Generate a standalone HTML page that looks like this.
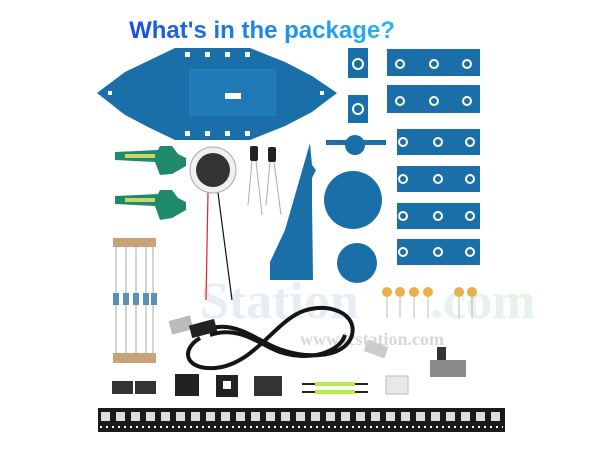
<!DOCTYPE html>
<html><head><style>
body{margin:0;width:600px;height:450px;background:#fff;overflow:hidden;font-family:"Liberation Sans",sans-serif}
</style></head><body>
<svg width="600" height="450" xmlns="http://www.w3.org/2000/svg">
<defs>
<linearGradient id="t" x1="0" x2="1"><stop offset="0" stop-color="#1a4fe0"/><stop offset="0.5" stop-color="#1e88e5"/><stop offset="1" stop-color="#29b6f6"/></linearGradient>
</defs>
<text x="262" y="38" text-anchor="middle" font-size="24" font-weight="bold" fill="url(#t)" font-family="Liberation Sans,sans-serif">What's in the package?</text>
<!-- watermark -->
<text x="200" y="318" font-size="52" font-weight="bold" fill="#e6eef4" font-family="Liberation Serif,serif">Station</text>
<text x="430" y="318" font-size="52" font-weight="bold" fill="#e6f3e8" font-family="Liberation Serif,serif">.com</text>
<text x="300" y="345" font-size="18" font-weight="bold" fill="#d8d8d8" font-family="Liberation Serif,serif">www.icstation.com</text>
<!-- boat pcb -->
<polygon points="97,93 125,72 150,60 175,48 250,48 285,62 312,76 337,93 312,112 285,126 250,140 175,140 150,128 125,115" fill="#1a6fa8"/>
<rect x="190" y="70" width="85" height="45" fill="#1f79b5" stroke="#2a88c4"/>
<rect x="225" y="93" width="16" height="6" fill="#fff"/>
<g fill="#fff"><rect x="185" y="52" width="5" height="5"/><rect x="205" y="52" width="5" height="5"/><rect x="225" y="52" width="5" height="5"/><rect x="245" y="52" width="5" height="5"/><rect x="185" y="131" width="5" height="5"/><rect x="205" y="131" width="5" height="5"/><rect x="225" y="131" width="5" height="5"/><rect x="245" y="131" width="5" height="5"/><rect x="108" y="91" width="4" height="4"/><rect x="320" y="91" width="4" height="4"/></g>
<!-- small pieces -->
<rect x="348" y="48" width="20" height="30" fill="#1a6fa8"/><circle cx="358" cy="64" r="5" fill="none" stroke="#fff" stroke-width="2"/>
<rect x="348" y="95" width="20" height="28" fill="#1a6fa8"/><circle cx="358" cy="109" r="5" fill="none" stroke="#fff" stroke-width="2"/>
<!-- strips -->
<g fill="#1a6fa8">
<rect x="387" y="49" width="93" height="27"/><rect x="387" y="85" width="93" height="28"/>
<rect x="397" y="129" width="83" height="26"/><rect x="397" y="166" width="83" height="26"/><rect x="397" y="203" width="83" height="26"/><rect x="397" y="239" width="83" height="26"/>
</g>
<g fill="none" stroke="#fff" stroke-width="2">
<circle cx="400" cy="64" r="4"/><circle cx="434" cy="64" r="4"/><circle cx="467" cy="64" r="4"/>
<circle cx="400" cy="101" r="4"/><circle cx="434" cy="101" r="4"/><circle cx="467" cy="101" r="4"/>
<circle cx="403" cy="142" r="4"/><circle cx="438" cy="142" r="4"/><circle cx="470" cy="142" r="4"/>
<circle cx="403" cy="179" r="4"/><circle cx="438" cy="179" r="4"/><circle cx="470" cy="179" r="4"/>
<circle cx="403" cy="216" r="4"/><circle cx="438" cy="216" r="4"/><circle cx="470" cy="216" r="4"/>
<circle cx="403" cy="252" r="4"/><circle cx="438" cy="252" r="4"/><circle cx="470" cy="252" r="4"/>
</g>
<!-- green pieces -->
<g fill="#1f8a6a"><polygon points="115,152 158,150 160,146 172,146 178,154 186,158 186,166 172,174 160,175 155,162 115,160"/>
<polygon points="115,196 158,194 160,190 172,190 178,198 186,202 186,210 172,218 160,220 155,206 115,204"/></g>
<rect x="125" y="154" width="30" height="4" fill="#c9d46a"/><rect x="125" y="198" width="30" height="4" fill="#c9d46a"/>
<!-- speaker -->
<circle cx="213" cy="170" r="23" fill="#f0f0f0" stroke="#aaa"/><circle cx="213" cy="170" r="17" fill="#333"/>
<path d="M208,193 L206,300" stroke="#d22" stroke-width="1.2" fill="none"/><path d="M218,193 L232,300" stroke="#111" stroke-width="1.2" fill="none"/>
<!-- caps -->
<rect x="250" y="146" width="8" height="15" rx="2" fill="#222"/><rect x="268" y="147" width="8" height="15" rx="2" fill="#222"/>
<path d="M252,161 L248,205 M256,161 L262,215 M270,162 L266,205 M274,162 L281,215" stroke="#aaa" fill="none"/>
<!-- triangle -->
<polygon points="310,143 312,165 316,170 312,178 312,200 313,280 270,280 270,262 285,230" fill="#1a6fa8"/>
<!-- circles -->
<rect x="326" y="140" width="60" height="5" fill="#1a6fa8"/><circle cx="355" cy="145" r="10" fill="#1a6fa8"/>
<circle cx="353" cy="200" r="29" fill="#1a6fa8"/><circle cx="357" cy="263" r="20" fill="#1a6fa8"/>
<!-- resistors -->
<rect x="113" y="238" width="43" height="9" fill="#c9a27a"/><rect x="113" y="353" width="43" height="10" fill="#c9a27a"/>
<g stroke="#aaa"><line x1="116" y1="247" x2="116" y2="353"/><line x1="126" y1="247" x2="126" y2="353"/><line x1="136" y1="247" x2="136" y2="353"/><line x1="146" y1="247" x2="146" y2="353"/><line x1="153" y1="247" x2="153" y2="353"/></g>
<g fill="#5b8fb5"><rect x="113" y="293" width="6" height="12"/><rect x="123" y="293" width="6" height="12"/><rect x="133" y="293" width="6" height="12"/><rect x="143" y="293" width="6" height="12"/><rect x="151" y="293" width="6" height="12"/></g>
<!-- capacitors yellow -->
<g stroke="#bbb"><line x1="387" y1="297" x2="387" y2="318"/><line x1="400" y1="297" x2="400" y2="318"/><line x1="414" y1="297" x2="414" y2="318"/><line x1="428" y1="297" x2="428" y2="318"/><line x1="459" y1="297" x2="459" y2="318"/><line x1="472" y1="297" x2="472" y2="318"/></g>
<g fill="#e8b04a"><circle cx="387" cy="292" r="5"/><circle cx="400" cy="292" r="5"/><circle cx="414" cy="292" r="5"/><circle cx="428" cy="292" r="5"/><circle cx="459" cy="292" r="5"/><circle cx="472" cy="292" r="5"/></g>
<!-- cable -->
<g fill="none" stroke="#151515" stroke-width="4">
<path d="M205,330 C230,320 250,335 270,345 C300,360 345,360 352,335 C358,310 320,300 295,315 C270,330 250,365 215,368 C185,370 180,350 200,338"/>
<path d="M210,335 C240,325 260,345 280,352 C310,362 340,352 345,335"/>
</g>
<rect x="170" y="318" width="22" height="14" fill="#bbb" transform="rotate(-15 181 325)"/><rect x="190" y="322" width="26" height="13" fill="#222" transform="rotate(-15 203 328)"/>
<!-- usb-c, switch -->
<rect x="365" y="343" width="22" height="12" fill="#ccc" transform="rotate(20 376 349)"/>
<rect x="437" y="347" width="9" height="14" fill="#333"/><rect x="430" y="360" width="36" height="17" fill="#8a8a8a"/>
<!-- ICs -->
<rect x="112" y="381" width="21" height="13" fill="#333"/><rect x="135" y="381" width="21" height="13" fill="#333"/>
<rect x="175" y="374" width="24" height="22" fill="#222"/><rect x="216" y="375" width="22" height="22" fill="#222"/><rect x="223" y="381" width="8" height="8" fill="#fff"/>
<rect x="254" y="376" width="28" height="20" fill="#333"/>
<line x1="302" y1="384" x2="368" y2="384" stroke="#222" stroke-width="2"/><line x1="302" y1="392" x2="368" y2="392" stroke="#222" stroke-width="2"/>
<rect x="315" y="382" width="40" height="4" fill="#b6ec4a"/><rect x="315" y="390" width="40" height="4" fill="#b6ec4a"/>
<rect x="386" y="376" width="22" height="18" fill="#e8e8e8" stroke="#bbb"/>
<!-- LED strip -->
<rect x="98" y="408" width="407" height="24" fill="#1a1a1a"/>
<g fill="#ddd">
<rect x="101" y="412" width="9" height="9"/><rect x="116" y="412" width="9" height="9"/><rect x="131" y="412" width="9" height="9"/><rect x="146" y="412" width="9" height="9"/><rect x="161" y="412" width="9" height="9"/><rect x="176" y="412" width="9" height="9"/><rect x="191" y="412" width="9" height="9"/><rect x="206" y="412" width="9" height="9"/><rect x="221" y="412" width="9" height="9"/><rect x="236" y="412" width="9" height="9"/><rect x="251" y="412" width="9" height="9"/><rect x="266" y="412" width="9" height="9"/><rect x="281" y="412" width="9" height="9"/><rect x="296" y="412" width="9" height="9"/><rect x="311" y="412" width="9" height="9"/><rect x="326" y="412" width="9" height="9"/><rect x="341" y="412" width="9" height="9"/><rect x="356" y="412" width="9" height="9"/><rect x="371" y="412" width="9" height="9"/><rect x="386" y="412" width="9" height="9"/><rect x="401" y="412" width="9" height="9"/><rect x="416" y="412" width="9" height="9"/><rect x="431" y="412" width="9" height="9"/><rect x="446" y="412" width="9" height="9"/><rect x="461" y="412" width="9" height="9"/><rect x="476" y="412" width="9" height="9"/><rect x="491" y="412" width="9" height="9"/>
</g>
<line x1="100" y1="427" x2="503" y2="427" stroke="#fff" stroke-width="2" stroke-dasharray="2 4"/>
</svg>
</body></html>
